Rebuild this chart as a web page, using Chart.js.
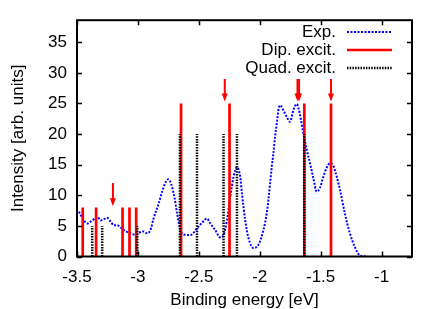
<!DOCTYPE html>
<html>
<head>
<meta charset="utf-8">
<script src="https://cdn.jsdelivr.net/npm/chart.js@4/dist/chart.umd.min.js"></script>
<style>
  html, body { margin: 0; padding: 0; background: #fff; }
  #c { display: block; }
</style>
</head>
<body>
<canvas id="c" width="442" height="309"></canvas>
<script>
// experimental spectrum
const expE = [-3.485, -3.443, -3.415, -3.388, -3.361, -3.333, -3.306, -3.279, -3.251, -3.224,
  -3.197, -3.169, -3.142, -3.115, -3.088, -3.061, -3.034, -3.006, -2.979, -2.952,
  -2.925, -2.898, -2.870, -2.829, -2.788, -2.750, -2.706, -2.678, -2.651, -2.624,
  -2.569, -2.515, -2.470, -2.433, -2.406, -2.365, -2.324, -2.297, -2.269, -2.242,
  -2.215, -2.187, -2.160, -2.146, -2.119, -2.092, -2.052, -2.011, -1.970, -1.942,
  -1.929, -1.915, -1.901, -1.888, -1.874, -1.860, -1.847, -1.833, -1.806, -1.778,
  -1.751, -1.724, -1.696, -1.669, -1.642, -1.615, -1.587, -1.560, -1.533, -1.506,
  -1.478, -1.451, -1.424, -1.397, -1.370, -1.342, -1.301, -1.260, -1.220, -1.179, -1.130];
const expI = [7.3, 5.9, 5.4, 5.7, 6.1, 6.5, 5.9, 6.1, 6.3, 5.7,
  5.1, 5.1, 4.75, 4.3, 4.0, 3.8, 3.6, 3.65, 4.0, 4.1,
  3.8, 4.3, 6.3, 8.7, 11.4, 12.6, 10.3, 7.0, 4.3, 3.6,
  3.5, 4.6, 5.6, 6.2, 5.4, 4.3, 3.1, 3.5, 5.9, 9.7,
  13.0, 14.6, 13.0, 10.3, 5.9, 3.0, 1.4, 1.9, 4.3, 7.1,
  9.2, 11.9, 14.7, 16.8, 19.6, 21.7, 23.9, 24.7, 23.9, 22.8,
  22.0, 23.9, 24.9, 23.1, 20.1, 17.5, 15.2, 12.8, 10.6, 11.2,
  13.0, 14.5, 15.2, 14.9, 13.2, 11.0, 7.0, 3.8, 1.6, 0.2, 0];

// dipole excitations
const dipE = [-3.453, -3.343, -3.126, -3.069, -3.014, -2.646, -2.248, -1.634, -1.415];
const dipH = [8, 8, 8, 8, 8, 25, 25, 25, 25];

// quadrupole excitations
const quadE = [-3.375, -3.293, -3.005, -2.655, -2.515, -2.297, -2.187, -1.634];
const quadH = [5, 5, 5, 20, 20, 20, 20, 20];

// arrows
const arrowE = [-3.205, -2.287, -1.690, -1.677, -1.415];
const arrowFrom = [12, 29, 29, 29, 29];
const arrowTo = [8.2, 25.3, 25.3, 25.3, 25.3];

const xTicks = [-3.5, -3, -2.5, -2, -1.5, -1];
const yTicks = [0, 5, 10, 15, 20, 25, 30, 35];

const FONT = '"Liberation Sans", Arial, sans-serif';

function sticks(E, H) {
  let pts = [];
  E.forEach(function(e, i) {
    pts.push({x: e, y: 0}, {x: e, y: H[i]}, {x: e, y: null});
  });
  return pts;
}

const frame = {
  id: 'frame',
  afterDatasetsDraw(chart) {
    const {ctx, chartArea: a, scales: {x, y}} = chart;
    ctx.save();
    ctx.strokeStyle = '#000';
    ctx.lineWidth = 1.5;
    ctx.beginPath();
    xTicks.forEach(function(v) {
      let px = Math.round(x.getPixelForValue(v)) + 0.5;
      ctx.moveTo(px, a.bottom); ctx.lineTo(px, a.bottom - 5);
      ctx.moveTo(px, a.top); ctx.lineTo(px, a.top + 5);
    });
    yTicks.forEach(function(v) {
      let py = Math.round(y.getPixelForValue(v)) + 0.5;
      ctx.moveTo(a.left, py); ctx.lineTo(a.left + 5, py);
      ctx.moveTo(a.right, py); ctx.lineTo(a.right - 5, py);
    });
    ctx.stroke();
    ctx.lineWidth = 2;
    ctx.strokeRect(a.left, a.top, a.right - a.left, a.bottom - a.top);

    // arrows
    ctx.strokeStyle = '#f00';
    ctx.fillStyle = '#f00';
    ctx.lineWidth = 2;
    arrowE.forEach(function(e, i) {
      let px = x.getPixelForValue(e);
      let y0 = y.getPixelForValue(arrowFrom[i]);
      let y1 = y.getPixelForValue(arrowTo[i]);
      ctx.beginPath();
      ctx.moveTo(px, y0); ctx.lineTo(px, y1 - 6);
      ctx.stroke();
      ctx.beginPath();
      ctx.moveTo(px, y1);
      ctx.lineTo(px - 3, y1 - 8);
      ctx.lineTo(px + 3, y1 - 8);
      ctx.closePath();
      ctx.fill();
    });

    // key
    ctx.font = '17px ' + FONT;
    ctx.textAlign = 'right';
    ctx.textBaseline = 'middle';
    ctx.fillStyle = '#000';
    const rows = [
      ['Exp.', '#0000ff', 2, [2, 1.5]],
      ['Dip. excit.', '#ff0000', 2.7, []],
      ['Quad. excit.', '#000', 2.5, [1.5, 1.2]]
    ];
    rows.forEach(function(r, i) {
      let ry = 32 + i * 18;
      ctx.fillText(r[0], 336, ry);
      ctx.strokeStyle = r[1];
      ctx.lineWidth = r[2];
      ctx.setLineDash(r[3]);
      ctx.beginPath();
      ctx.moveTo(347, ry); ctx.lineTo(392, ry);
      ctx.stroke();
    });
    ctx.restore();
  }
};

new Chart(document.getElementById('c'), {
  type: 'line',
  data: {
    datasets: [{
      label: 'Exp.',
      data: expE.map(function(e, i) { return {x: e, y: expI[i]}; }),
      borderColor: '#0000ff',
      borderWidth: 2,
      borderDash: [2, 1.5],
      pointRadius: 0,
      cubicInterpolationMode: 'monotone',
      order: 3
    }, {
      label: 'Dip. excit.',
      data: sticks(dipE, dipH),
      borderColor: '#ff0000',
      borderWidth: 2.7,
      pointRadius: 0,
      spanGaps: false,
      order: 2
    }, {
      label: 'Quad. excit.',
      data: sticks(quadE, quadH),
      borderColor: '#000000',
      borderWidth: 2.5,
      borderDash: [1.5, 1.2],
      pointRadius: 0,
      spanGaps: false,
      order: 1
    }]
  },
  options: {
    responsive: false,
    devicePixelRatio: 1,
    animation: false,
    layout: { padding: { top: 20, right: 30, left: 0, bottom: 0 } },
    plugins: {
      legend: { display: false },
      tooltip: { enabled: false }
    },
    scales: {
      x: {
        type: 'linear',
        min: -3.5,
        max: -0.75,
        afterBuildTicks: function(s) { s.ticks = xTicks.map(function(v) { return {value: v}; }); },
        afterFit: function(s) { s.height = 52.5; },
        grid: { display: false, drawTicks: false },
        border: { display: false },
        ticks: {
          color: '#000',
          padding: 11,
          maxRotation: 0,
          font: { family: FONT, size: 17 },
          callback: function(v) { return String(v); }
        },
        title: {
          display: true,
          text: 'Binding energy [eV]',
          color: '#000',
          font: { family: FONT, size: 17, lineHeight: 1 },
          padding: { top: 0, bottom: 0 }
        }
      },
      y: {
        min: 0,
        max: 38.6,
        afterBuildTicks: function(s) { s.ticks = yTicks.map(function(v) { return {value: v}; }); },
        afterFit: function(s) { s.width = 77; },
        grid: { display: false, drawTicks: false },
        border: { display: false },
        ticks: {
          color: '#000',
          padding: 10,
          font: { family: FONT, size: 17 },
          callback: function(v) { return String(v); }
        },
        title: {
          display: true,
          text: 'Intensity [arb. units]',
          color: '#000',
          font: { family: FONT, size: 17, lineHeight: 1 },
          padding: { top: 10, bottom: 0 }
        }
      }
    }
  },
  plugins: [frame]
});
</script>
</body>
</html>
